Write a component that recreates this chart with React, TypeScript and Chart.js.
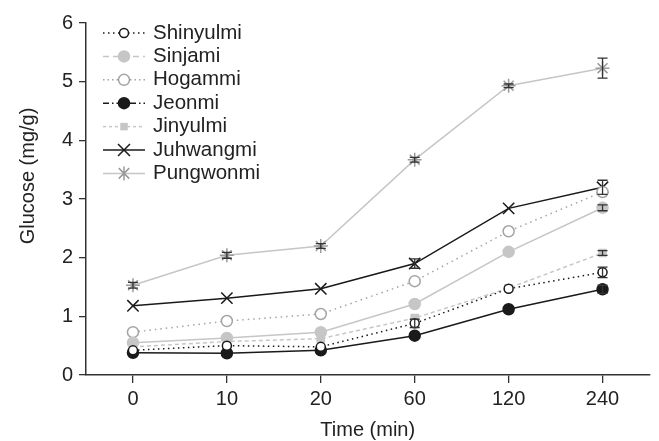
import React, { useEffect, useRef } from "react";
import { Chart, registerables } from "chart.js";

Chart.register(...registerables);

const categories = ["0", "10", "20", "60", "120", "240"];
const seriesNames = ["Shinyulmi", "Sinjami", "Hogammi", "Jeonmi", "Jinyulmi", "Juhwangmi", "Pungwonmi"];

const shinyulmi = [0.42, 0.5, 0.48, 0.88, 1.47, 1.75];
const shinyulmiErr = [0, 0, 0, 0.07, 0, 0.09];
const sinjami = [0.55, 0.63, 0.73, 1.21, 2.1, 2.85];
const sinjamiErr = [0, 0, 0, 0, 0, 0.05];
const hogammi = [0.73, 0.92, 1.04, 1.6, 2.45, 3.12];
const hogammiErr = [0, 0, 0, 0, 0, 0];
const jeonmi = [0.38, 0.37, 0.42, 0.67, 1.12, 1.46];
const jeonmiErr = [0, 0, 0, 0, 0, 0.07];
const jinyulmi = [0.48, 0.57, 0.62, 0.97, 1.48, 2.08];
const jinyulmiErr = [0, 0, 0, 0, 0, 0.04];
const juhwangmi = [1.18, 1.31, 1.47, 1.9, 2.84, 3.2];
const juhwangmiErr = [0, 0, 0, 0.08, 0, 0.12];
const pungwonmi = [1.53, 2.04, 2.2, 3.67, 4.93, 5.23];
const pungwonmiErr = [0.05, 0.05, 0.04, 0.04, 0.03, 0.17];

const yTicks = [0, 1, 2, 3, 4, 5, 6];

const FONT = '"Liberation Sans", Arial, sans-serif';
const BLACK = "#1a1a1a";
const GRAY = "#c6c6c6";
const MIDGRAY = "#a4a4a4";

type Style = {
  color: string;
  dash: number[];
  legendDash: number[];
  pointStyle: string;
  radius: number;
  fill: string;
  pointColor: string;
};

const styles: Style[] = [
  { color: BLACK, dash: [1.5, 3.5], legendDash: [1.5, 3.5], pointStyle: "circle", radius: 4.5, fill: "#ffffff", pointColor: BLACK },
  { color: GRAY, dash: [], legendDash: [6, 4], pointStyle: "circle", radius: 5.5, fill: GRAY, pointColor: GRAY },
  { color: MIDGRAY, dash: [1.5, 4], legendDash: [1.5, 3], pointStyle: "circle", radius: 5.5, fill: "#ffffff", pointColor: MIDGRAY },
  { color: BLACK, dash: [], legendDash: [6, 3, 1.5, 3], pointStyle: "circle", radius: 5.5, fill: BLACK, pointColor: BLACK },
  { color: GRAY, dash: [4, 3], legendDash: [3, 3], pointStyle: "rect", radius: 5, fill: GRAY, pointColor: GRAY },
  { color: BLACK, dash: [], legendDash: [], pointStyle: "crossRot", radius: 8, fill: BLACK, pointColor: BLACK },
  { color: GRAY, dash: [], legendDash: [], pointStyle: "star", radius: 7, fill: MIDGRAY, pointColor: "#9a9a9a" },
];

const values = [shinyulmi, sinjami, hogammi, jeonmi, jinyulmi, juhwangmi, pungwonmi];
const errors = [shinyulmiErr, sinjamiErr, hogammiErr, jeonmiErr, jinyulmiErr, juhwangmiErr, pungwonmiErr];

const drawMarker = (ctx: CanvasRenderingContext2D, st: Style, x: number, y: number) => {
  ctx.save();
  ctx.setLineDash([]);
  ctx.lineWidth = 1.5;
  ctx.strokeStyle = st.pointColor;
  ctx.fillStyle = st.fill;
  const r = st.radius;
  if (st.pointStyle === "circle") {
    ctx.beginPath();
    ctx.arc(x, y, r, 0, Math.PI * 2);
    ctx.fill();
    ctx.stroke();
  } else if (st.pointStyle === "rect") {
    ctx.fillRect(x - r * 0.75, y - r * 0.75, r * 1.5, r * 1.5);
  } else if (st.pointStyle === "crossRot") {
    const d = r * 0.75;
    ctx.beginPath();
    ctx.moveTo(x - d, y - d);
    ctx.lineTo(x + d, y + d);
    ctx.moveTo(x - d, y + d);
    ctx.lineTo(x + d, y - d);
    ctx.stroke();
  } else if (st.pointStyle === "star") {
    const d = r * 0.75;
    ctx.beginPath();
    ctx.moveTo(x - d, y - d);
    ctx.lineTo(x + d, y + d);
    ctx.moveTo(x - d, y + d);
    ctx.lineTo(x + d, y - d);
    ctx.moveTo(x, y - r);
    ctx.lineTo(x, y + r);
    ctx.stroke();
  }
  ctx.restore();
};

const overlayPlugin = {
  id: "overlay",
  afterDatasetsDraw(chart: any) {
    const ctx: CanvasRenderingContext2D = chart.ctx;
    const xs = chart.scales.x;
    const ys = chart.scales.y;
    // error bars
    ctx.save();
    ctx.strokeStyle = "#333";
    ctx.lineWidth = 1.3;
    ctx.setLineDash([]);
    values.forEach((vals, di) => {
      vals.forEach((v, i) => {
        const e = errors[di][i];
        if (!e) return;
        const x = xs.getPixelForValue(i);
        const y1 = ys.getPixelForValue(v - e);
        const y2 = ys.getPixelForValue(v + e);
        ctx.beginPath();
        ctx.moveTo(x, y1);
        ctx.lineTo(x, y2);
        ctx.moveTo(x - 5, y1);
        ctx.lineTo(x + 5, y1);
        ctx.moveTo(x - 5, y2);
        ctx.lineTo(x + 5, y2);
        ctx.stroke();
      });
    });
    ctx.restore();

    // legend
    ctx.save();
    ctx.font = `20.5px ${FONT}`;
    ctx.textBaseline = "middle";
    ctx.textAlign = "left";
    seriesNames.forEach((name, i) => {
      const st = styles[i];
      const y = 33 + i * 23.4;
      ctx.save();
      ctx.strokeStyle = st.color;
      ctx.lineWidth = 1.5;
      ctx.setLineDash(st.legendDash);
      ctx.beginPath();
      ctx.moveTo(103, y);
      ctx.lineTo(145, y);
      ctx.stroke();
      ctx.restore();
      drawMarker(ctx, st, 124, y);
      ctx.fillStyle = "#222";
      ctx.fillText(name, 153, y);
    });
    ctx.restore();

    // axis titles
    ctx.save();
    ctx.fillStyle = "#222";
    ctx.font = `20px ${FONT}`;
    ctx.textAlign = "center";
    ctx.textBaseline = "middle";
    ctx.fillText("Time (min)", (chart.chartArea.left + chart.chartArea.right) / 2, 430);
    ctx.translate(28, 176);
    ctx.rotate(-Math.PI / 2);
    ctx.fillText("Glucose (mg/g)", 0, 0);
    ctx.restore();
  },
};

export default function App() {
  const ref = useRef<HTMLCanvasElement | null>(null);
  useEffect(() => {
    document.body.style.margin = "0";
    if (!ref.current) return;
    const chart = new Chart(ref.current, {
      type: "line",
      data: {
        labels: categories,
        datasets: values.map((vals, i) => {
          const st = styles[i];
          return {
            label: seriesNames[i],
            data: vals,
            borderColor: st.color,
            borderWidth: 1.5,
            borderDash: st.dash,
            pointStyle: st.pointStyle as any,
            pointRadius: st.radius,
            pointBackgroundColor: st.fill,
            pointBorderColor: st.pointColor,
            pointBorderWidth: 1.5,
            tension: 0,
            fill: false,
          };
        }),
      },
      options: {
        animation: false,
        responsive: false,
        layout: { padding: { left: 0, right: 9, top: 23, bottom: 0 } },
        plugins: { legend: { display: false }, tooltip: { enabled: false } },
        scales: {
          x: {
            type: "category",
            offset: true,
            grid: { display: true, drawOnChartArea: false, drawTicks: true, tickLength: 8, color: "#333", lineWidth: 1.3 },
            border: { display: true, color: "#333", width: 1.5 },
            ticks: { font: { family: FONT, size: 20 }, color: "#222", padding: 4, maxRotation: 0 },
            afterFit: (s: any) => {
              s.height = 66;
            },
          },
          y: {
            min: 0,
            max: 6,
            afterBuildTicks: (s: any) => {
              s.ticks = yTicks.map((v) => ({ value: v }));
            },
            grid: { display: true, drawOnChartArea: false, drawTicks: true, tickLength: 7, color: "#333", lineWidth: 1.3 },
            border: { display: true, color: "#333", width: 1.5 },
            ticks: { font: { family: FONT, size: 20 }, color: "#222", padding: 6 },
            afterFit: (s: any) => {
              s.width = 86;
            },
          },
        },
      },
      plugins: [overlayPlugin],
    });
    return () => chart.destroy();
  }, []);
  return (
    <div style={{ position: "fixed", left: 0, top: 0, width: 659, height: 441 }}>
      <canvas ref={ref} width={659} height={441} style={{ width: 659, height: 441 }} />
    </div>
  );
}
